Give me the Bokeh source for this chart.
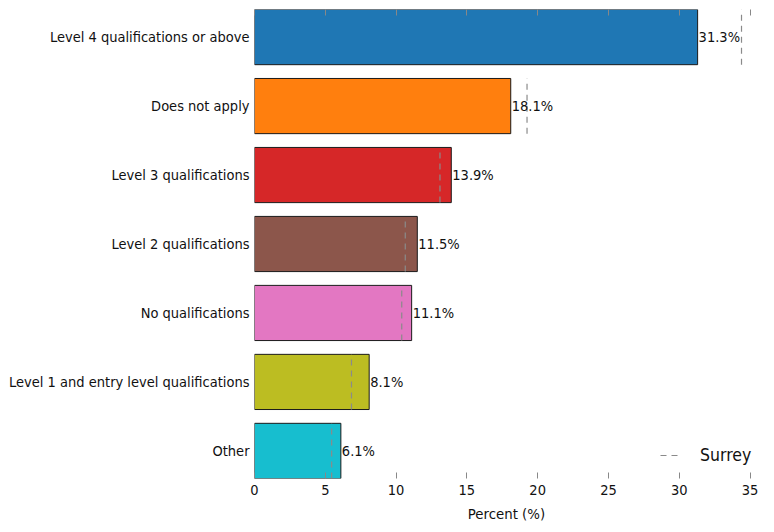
from bokeh.plotting import figure
from bokeh.models import ColumnDataSource, FixedTicker, Legend, LegendItem, Range1d, LinearAxis
from bokeh.core.properties import value
from bokeh.embed import file_html
from bokeh.resources import INLINE

categories = ["Level 4 qualifications or above", "Does not apply", "Level 3 qualifications",
              "Level 2 qualifications", "No qualifications",
              "Level 1 and entry level qualifications", "Other"]
values = [31.3, 18.1, 13.9, 11.5, 11.1, 8.1, 6.1]
surrey = [34.4, 19.25, 13.1, 10.65, 10.4, 6.85, 5.45]
colors = ["#1f77b4", "#ff7f0e", "#d62728", "#8c564b", "#e377c2", "#bcbd22", "#17becf"]
x_ticks = [0, 5, 10, 15, 20, 25, 30, 35]

FONT = "DejaVu Sans Condensed"

n = len(categories)
ypos = [n - 1 - i for i in range(n)]

src = ColumnDataSource(dict(
    y=ypos, v=values, s=surrey, c=colors,
    y0=[y - 0.4 for y in ypos], y1=[y + 0.4 for y in ypos],
    lab=["%.1f%%" % v for v in values],
))

p = figure(width=758, height=524, output_backend="svg", toolbar_location=None,
           x_range=Range1d(0, 35.6), y_range=Range1d(-0.4, n - 1 + 0.4),
           min_border_left=254, min_border_right=0, min_border_top=9, min_border_bottom=45)
p.outline_line_color = None
p.xgrid.visible = False
p.ygrid.visible = False
p.background_fill_color = "white"

p.hbar(y="y", right="v", left=0, height=0.8, fill_color="c", line_color="#1a1a1a",
       line_width=1, source=src)
seg = p.segment(x0="s", x1="s", y0="y0", y1="y1", line_color="#8a8a8a", line_width=1.2,
                line_dash="6 5", source=src)
p.text(x="v", y="y", text="lab", x_offset=1, text_align="left", text_baseline="middle",
       text_font_size="14.5px", text_font=value(FONT), text_color="#111111", source=src)

# x axis
xa = p.xaxis[0]
xa.ticker = FixedTicker(ticks=x_ticks)
xa.axis_line_color = None
xa.major_tick_in = 6
xa.major_tick_out = 0
xa.major_tick_line_color = "#888888"
xa.minor_tick_line_color = None
xa.major_label_text_font = FONT
xa.major_label_text_font_size = "14.5px"
xa.major_label_text_color = "#111111"
xa.major_label_standoff = 6
xa.axis_label = "Percent (%)"
xa.axis_label_text_font = FONT
xa.axis_label_text_font_size = "14.8px"
xa.axis_label_text_font_style = "normal"
xa.axis_label_text_color = "#111111"
xa.axis_label_standoff = 7

top = LinearAxis(ticker=FixedTicker(ticks=x_ticks), axis_line_color=None,
                 major_tick_in=6, major_tick_out=0, major_tick_line_color="#888888",
                 minor_tick_line_color=None, major_label_standoff=0,
                 major_label_overrides={t: "" for t in x_ticks})
p.add_layout(top, "above")

ya = p.yaxis[0]
ya.ticker = FixedTicker(ticks=ypos)
ya.major_label_overrides = {ypos[i]: categories[i] for i in range(n)}
ya.axis_line_color = None
ya.major_tick_line_color = None
ya.major_tick_in = 0
ya.major_tick_out = 0
ya.minor_tick_line_color = None
ya.minor_tick_in = 0
ya.minor_tick_out = 0
ya.major_label_text_font = FONT
ya.major_label_text_font_size = "14.5px"
ya.major_label_text_color = "#111111"
ya.major_label_standoff = 5

legend = Legend(items=[LegendItem(label="Surrey", renderers=[seg])],
                location=(406, 13), border_line_color=None, background_fill_alpha=0,
                label_text_font=FONT, label_text_font_size="17.5px", label_text_color="#111111",
                glyph_width=22, label_standoff=18, padding=0, margin=0, spacing=0)
p.add_layout(legend, "center")

open("out.html", "w").write(file_html(p, INLINE))
